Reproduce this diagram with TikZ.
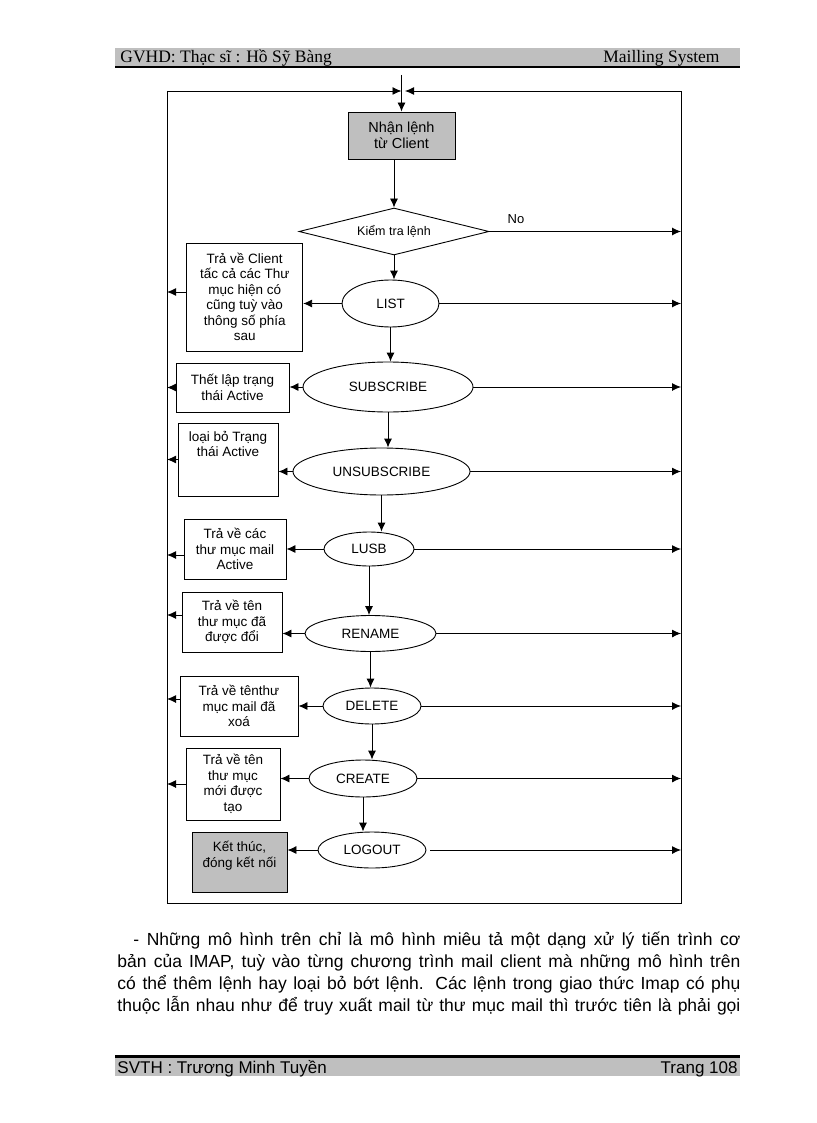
\documentclass[tikz,border=0pt]{standalone}
\usepackage{fontspec}
\setmainfont{Liberation Serif}
\setsansfont{Liberation Sans}
\usetikzlibrary{arrows.meta}
\usetikzlibrary{shapes.geometric}
\usetikzlibrary{positioning}
\tikzset{>={Latex[length=9pt, width=8pt]}}
\tikzset{box/.style = {draw, rectangle, inner sep = 0pt, align = center,
                       font = \sffamily\fontsize{13.5}{15.5}\selectfont},
         cmd/.style = {draw, ellipse, inner sep = 0pt,
                       font = \sffamily\fontsize{13.5}{15}\selectfont},
         band/.style = {fill = gray!50},
         body/.style = {anchor = base west, inner sep = 0pt,
                        font = \sffamily\fontsize{17.5}{21}\selectfont}}

\begin{document}
\begin{tikzpicture}[x = 1pt, y = -1pt, line width = 0.9pt]
      \useasboundingbox (0, 0) rectangle (816, 1123);
      \fill [white] (0, 0) rectangle (816, 1123);

      \fill [band] (115, 48) rectangle (740, 67);
      \draw [line width = 2pt] (115, 67.5) -- (740, 67.5);
      \node [anchor = base west, inner sep = 0pt, font = \rmfamily\fontsize{17.5}{20}\selectfont]
        (gvhd) at (120, 63) {GVHD: Thạc sĩ : Hồ Sỹ Bàng};
      \node [anchor = base east, inner sep = 0pt, font = \rmfamily\fontsize{17.5}{20}\selectfont]
        (subj) at (720, 63) {Mailling System};

      \coordinate (tl) at (167, 91);
      \coordinate (tr) at (681, 91);
      \coordinate (bl) at (167, 903);
      \coordinate (br) at (681, 903);
      \coordinate (in) at (401.5, 75);
      \coordinate (ml) at (401.5, 91);
      \coordinate (mr) at (405, 91);

      \draw (tl) -- (bl) -- (br) -- (tr);
      \draw [->] (tl) -- (ml);
      \draw [->] (tr) -- (mr);

      \node [box, band, minimum width = 107pt, minimum height = 47pt,
             font = \sffamily\fontsize{14.5}{16}\selectfont]
        (recv) at (401.5, 135.5) {Nhận lệnh\\từ Client};
      \draw [->] (in) -- (recv.north);

      \node [draw, diamond, aspect = 4, inner sep = 0pt, minimum width = 190pt,
             minimum height = 47pt, font = \sffamily\fontsize{12.5}{14}\selectfont]
        (chk) at (394, 231.5) {Kiểm tra lệnh};
      \node [font = \sffamily\fontsize{13}{14}\selectfont] (no) at (516, 219) {No};
      \draw [->] (chk.north |- recv.south) -- (chk.north);
      \draw [->] (chk.east) -- (chk.east -| tr);

      \node [cmd, minimum width = 97pt, minimum height = 47pt] (list) at (390.5, 303.5) {LIST};
      \node [cmd, minimum width = 170pt, minimum height = 50pt] (sub) at (388, 387) {SUBSCRIBE};
      \node [cmd, minimum width = 177pt, minimum height = 47pt] (unsub) at (381.5, 471.5) {UNSUBSCRIBE};
      \node [cmd, minimum width = 90pt, minimum height = 34pt] (lusb) at (369, 549) {LUSB};
      \node [cmd, minimum width = 131pt, minimum height = 36pt] (ren) at (370.5, 633.5) {RENAME};
      \node [cmd, minimum width = 98pt, minimum height = 36pt] (del) at (372, 706) {DELETE};
      \node [cmd, minimum width = 108pt, minimum height = 37pt] (cre) at (363, 778.5) {CREATE};
      \node [cmd, minimum width = 108pt, minimum height = 36pt] (logout) at (372, 850) {LOGOUT};

      \node [box, minimum width = 116pt, minimum height = 108pt] (blist) at (244.7, 297)
        {Trả về Client\\tấc cả các Thư\\mục hiện có\\cũng tuỳ vào\\thông số phía\\sau};
      \node [box, minimum width = 113pt, minimum height = 49pt] (bsub) at (232.5, 387.5)
        {Thết lập trạng\\thái Active};
      \node [box, minimum width = 100pt, minimum height = 73pt] (bunsub) at (228, 459.5)
        {loại bỏ Trạng\\thái Active\\~\\~};
      \node [box, minimum width = 102pt, minimum height = 60pt] (blusb) at (235, 549)
        {Trả về các\\thư mục mail\\Active};
      \node [box, minimum width = 100pt, minimum height = 60pt] (bren) at (232, 622)
        {Trả về tên\\thư mục đã\\được đổi};
      \node [box, minimum width = 118pt, minimum height = 60pt] (bdel) at (239, 706)
        {Trả về tênthư\\mục mail đã\\xoá};
      \node [box, minimum width = 94pt, minimum height = 72pt] (bcre) at (233, 784)
        {Trả về tên\\thư mục\\mới được\\tạo};
      \node [box, band, minimum width = 95pt, minimum height = 60pt] (bend) at (239.5, 862)
        {Kết thúc,\\đóng kết nối\\~};

      \draw [->] (chk.south) -- (chk.south |- list.north);
      \draw [->] (list.south) -- (list.south |- sub.north);
      \draw [->] (sub.south) -- (sub.south |- unsub.north);
      \draw [->] (unsub.south) -- (unsub.south |- lusb.north);
      \draw [->] (lusb.south) -- (lusb.south |- ren.north);
      \draw [->] (ren.south) -- (ren.south |- del.north);
      \draw [->] (del.south) -- (del.south |- cre.north);
      \draw [->] (cre.south) -- (cre.south |- logout.north);

      \draw [->] (list.west) -- (list.west -| blist.east);
      \draw [->] (sub.west) -- (sub.west -| bsub.east);
      \draw [->] (unsub.west) -- (unsub.west -| bunsub.east);
      \draw [->] (lusb.west) -- (lusb.west -| blusb.east);
      \draw [->] (ren.west) -- (ren.west -| bren.east);
      \draw [->] (del.west) -- (del.west -| bdel.east);
      \draw [->] (cre.west) -- (cre.west -| bcre.east);
      \draw [->] (logout.west) -- (logout.west -| bend.east);

      \draw [->] ([yshift = 5pt]blist.west) -- ([yshift = 5pt]blist.west -| tl);
      \draw [->] (bsub.west) -- (bsub.west -| tl);
      \draw [->] (bunsub.west) -- (bunsub.west -| tl);
      \draw [->] ([yshift = -6pt]blusb.west) -- ([yshift = -6pt]blusb.west -| tl);
      \draw [->] ([yshift = 7pt]bren.west) -- ([yshift = 7pt]bren.west -| tl);
      \draw [->] ([yshift = 7pt]bdel.west) -- ([yshift = 7pt]bdel.west -| tl);
      \draw [->] (bcre.west) -- (bcre.west -| tl);

      \draw [->] (list.east) -- (list.east -| tr);
      \draw [->] (sub.east) -- (sub.east -| tr);
      \draw [->] (unsub.east) -- (unsub.east -| tr);
      \draw [->] (lusb.east) -- (lusb.east -| tr);
      \draw [->] (ren.east) -- (ren.east -| tr);
      \draw [->] (del.east) -- (del.east -| tr);
      \draw [->] (cre.east) -- (cre.east -| tr);
      \draw [->] ([xshift = 4pt]logout.east) -- (logout.east -| tr);

      \node [body] (p1) at (133, 945)
        {\makebox[607pt][s]{- Những mô hình trên chỉ là mô hình miêu tả một dạng xử lý tiến trình cơ}};
      \node [body] (p2) at (117, 967)
        {\makebox[623pt][s]{bản của IMAP, tuỳ vào từng chương trình mail client mà những mô hình trên}};
      \node [body] (p3) at (117, 989)
        {\makebox[623pt][s]{có thể thêm lệnh hay loại bỏ bớt lệnh. Các lệnh trong giao thức Imap có phụ}};
      \node [body] (p4) at (117, 1011)
        {\makebox[623pt][s]{thuộc lẫn nhau như để truy xuất mail từ thư mục mail thì trước tiên là phải gọi}};

      \fill [band] (115, 1056) rectangle (740, 1076);
      \draw [line width = 3pt] (115, 1056.5) -- (740, 1056.5);
      \node [anchor = base west, inner sep = 0pt, font = \sffamily\fontsize{17}{20}\selectfont]
        (svth) at (117, 1073) {SVTH : Trương Minh Tuyền};
      \node [anchor = base east, inner sep = 0pt, font = \sffamily\fontsize{17}{20}\selectfont]
        (page) at (738, 1073) {Trang 108};
    \end{tikzpicture}
\end{document}
